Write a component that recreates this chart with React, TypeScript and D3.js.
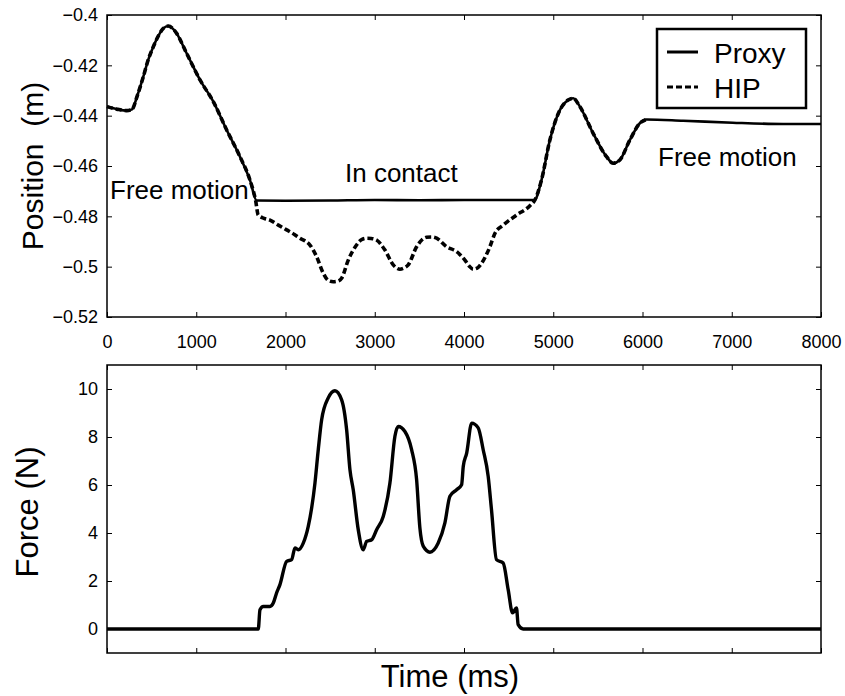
import { useEffect, useRef } from "react";
import * as d3 from "d3";

// ---------------- data ----------------
const proxyTime = [0, 120, 220, 280, 340, 407, 460, 519, 580, 631, 687, 740, 780, 892, 1042, 1191, 1341, 1490, 1602, 1677,
  2000, 2500, 3000, 3500, 4000, 4500, 4790, 4868, 4962, 5074, 5166, 5223, 5298, 5447, 5597, 5671, 5746, 5858, 5970, 6045,
  6455, 7011, 7575, 8000];
const proxyPos = [-0.4364, -0.4375, -0.438, -0.4375, -0.432, -0.4245, -0.418, -0.4126, -0.408, -0.4053, -0.4044, -0.4055,
  -0.4073, -0.4152, -0.4258, -0.4344, -0.4457, -0.4563, -0.4656, -0.4737, -0.4738, -0.4737, -0.4735, -0.4736, -0.4735,
  -0.4735, -0.4735, -0.4656, -0.4497, -0.4378, -0.4338, -0.4331, -0.4364, -0.447, -0.4563, -0.4589, -0.4576, -0.4497,
  -0.443, -0.4415, -0.442, -0.4428, -0.4433, -0.4433];

const hipTime = [0, 120, 220, 280, 340, 407, 460, 519, 580, 631, 687, 740, 780, 892, 1042, 1191, 1341, 1490, 1602, 1665,
  1695, 1760, 1826, 1920, 2013, 2100, 2162, 2230, 2274, 2348, 2423, 2480, 2535, 2580, 2629, 2703, 2796, 2850, 2908, 2960,
  3020, 3114, 3207, 3282, 3330, 3375, 3469, 3530, 3581, 3640, 3693, 3805, 3917, 4010, 4060, 4103, 4150, 4196, 4290, 4346,
  4439, 4588, 4738, 4794, 4868, 4962, 5074, 5166, 5223, 5298, 5447, 5597, 5671, 5746, 5858, 5970, 6045];
const hipPos = [-0.4364, -0.4375, -0.438, -0.4375, -0.432, -0.4245, -0.418, -0.4126, -0.408, -0.4053, -0.4044, -0.4055,
  -0.4073, -0.4152, -0.4258, -0.4344, -0.4457, -0.4563, -0.4656, -0.4737,
  -0.4795, -0.4808, -0.4815, -0.4835, -0.4854, -0.4872, -0.4887, -0.49, -0.4914, -0.496, -0.5026, -0.5055, -0.506, -0.5058,
  -0.5046, -0.4974, -0.4914, -0.4893, -0.4887, -0.4888, -0.4894, -0.4934, -0.4993, -0.501, -0.5005, -0.4993, -0.4921,
  -0.4893, -0.4883, -0.4882, -0.4887, -0.4921, -0.494, -0.4974, -0.4998, -0.501, -0.5005, -0.4987, -0.4921, -0.4868,
  -0.4835, -0.4795, -0.4758, -0.4735, -0.4656, -0.4497, -0.4378, -0.4338, -0.4331, -0.4364, -0.447, -0.4563, -0.4589,
  -0.4576, -0.4497, -0.443, -0.4415];

const forceTime = [0, 1695, 1714, 1751, 1826, 1863, 1900, 1938, 2013, 2069, 2106, 2143, 2199, 2255, 2293, 2330, 2367, 2405,
  2479, 2554, 2629, 2685, 2722, 2759, 2815, 2871, 2909, 2965, 3021, 3095, 3170, 3226, 3263, 3338, 3413, 3469, 3506, 3543,
  3618, 3711, 3786, 3842, 3917, 3973, 3992, 4030, 4086, 4159, 4215, 4271, 4308, 4364, 4439, 4495, 4544, 4588, 4607, 4663,
  8000];
const forceVal = [0, 0, 0.8, 0.94, 0.94, 1.08, 1.5, 1.85, 2.82, 2.89, 3.38, 3.3, 3.58, 4.28, 5.04, 6.08, 7.47, 8.72, 9.63,
  9.93, 9.55, 8.3, 6.64, 5.8, 4.14, 3.3, 3.65, 3.72, 4.14, 4.69, 6.08, 8.03, 8.44, 8.23, 7.47, 6.22, 4.2, 3.45, 3.2, 3.58,
  4.42, 5.53, 5.8, 6.01, 6.78, 7.33, 8.58, 8.38, 7.47, 6.36, 4.97, 2.89, 2.75, 1.64, 0.67, 0.88, 0.18, 0, 0];

const timeTicks = [0, 1000, 2000, 3000, 4000, 5000, 6000, 7000, 8000];
const posTicks = [-0.52, -0.5, -0.48, -0.46, -0.44, -0.42, -0.4];
const forceTicks = [0, 2, 4, 6, 8, 10];
const seriesNames = ["Proxy", "HIP"];

const FONT = "'Liberation Sans', Arial, Helvetica, sans-serif";

const App = () => {
  const svgRef = useRef(null);

  useEffect(() => {
    const W = 845, H = 696;
    const left = 107, right = 821;
    const top1 = 15, bot1 = 317;
    const top2 = 365, bot2 = 653;

    const svg = d3.select(svgRef.current).attr("width", W).attr("height", H);
    svg.selectAll("*").remove();
    svg.append("rect").attr("width", W).attr("height", H).attr("fill", "white");

    const x = d3.scaleLinear().domain([0, 8000]).range([left, right]);
    const y1 = d3.scaleLinear().domain([-0.52, -0.4]).range([bot1, top1]);
    const y2 = d3.scaleLinear().domain([-1, 11]).range([bot2, top2]);

    // ---------- axes helper ----------
    const styleAxis = (g, size) => {
      g.select(".domain").remove();
      g.selectAll("line").attr("stroke", "#000").attr("stroke-width", 1);
      g.selectAll("text").attr("font-family", FONT).attr("font-size", size).attr("fill", "#000");
    };

    const drawBox = (yScale, yTicks, top, bot, showX, yFmt) => {
      const g = svg.append("g");
      g.append("g").attr("transform", `translate(0,${bot})`)
        .call(d3.axisBottom(x).tickValues(timeTicks).tickSize(-5).tickPadding(18)
          .tickFormat(showX ? d3.format("d") : () => ""))
        .call(a => styleAxis(a, 18));
      g.append("g").attr("transform", `translate(0,${top})`)
        .call(d3.axisTop(x).tickValues(timeTicks).tickSize(-5).tickFormat(() => ""))
        .call(a => styleAxis(a, 18));
      g.append("g").attr("transform", `translate(${left},0)`)
        .call(d3.axisLeft(yScale).tickValues(yTicks).tickSize(-5).tickPadding(9).tickFormat(yFmt))
        .call(a => styleAxis(a, 18));
      g.append("g").attr("transform", `translate(${right},0)`)
        .call(d3.axisRight(yScale).tickValues(yTicks).tickSize(-5).tickFormat(() => ""))
        .call(a => styleAxis(a, 18));
      g.append("rect").attr("x", left).attr("y", top).attr("width", right - left).attr("height", bot - top)
        .attr("fill", "none").attr("stroke", "#000").attr("stroke-width", 1.5);
    };

    // ---------- top panel ----------
    drawBox(y1, posTicks, top1, bot1, true, d3.format("~g"));

    const line1 = d3.line().curve(d3.curveMonotoneX).x(d => x(d[0])).y(d => y1(d[1]));
    svg.append("path")
      .datum(proxyTime.map((t, i) => [t, proxyPos[i]]))
      .attr("d", line1).attr("fill", "none").attr("stroke", "#000").attr("stroke-width", 2.6);
    svg.append("path")
      .datum(hipTime.map((t, i) => [t, hipPos[i]]))
      .attr("d", line1).attr("fill", "none").attr("stroke", "#000").attr("stroke-width", 3.6)
      .attr("stroke-dasharray", "6,3");

    const txt = (s, xx, yy, size) =>
      svg.append("text").attr("x", xx).attr("y", yy).attr("font-family", FONT).attr("font-size", size)
        .attr("fill", "#000").style("white-space", "pre").text(s);

    txt("Free motion", 110, 199, 26);
    txt("In contact", 345, 182, 26);
    txt("Free motion", 658, 166, 26);

    // legend
    svg.append("rect").attr("x", 657).attr("y", 29).attr("width", 149).attr("height", 79)
      .attr("fill", "white").attr("stroke", "#000").attr("stroke-width", 2.5);
    seriesNames.forEach((name, i) => {
      const ly = 52 + i * 35;
      svg.append("line").attr("x1", 667).attr("x2", 698).attr("y1", ly).attr("y2", ly)
        .attr("stroke", "#000").attr("stroke-width", 3)
        .attr("stroke-dasharray", i === 0 ? null : "6,3");
      txt(name, 714, ly + 11, 28);
    });

    svg.append("text")
      .attr("transform", `translate(43,${(top1 + bot1) / 2}) rotate(-90)`)
      .attr("text-anchor", "middle").attr("font-family", FONT).attr("font-size", 30)
      .style("white-space", "pre").text("Position  (m)");

    // ---------- bottom panel ----------
    drawBox(y2, forceTicks, top2, bot2, false, d3.format("d"));

    const line2 = d3.line().curve(d3.curveMonotoneX).x(d => x(d[0])).y(d => y2(d[1]));
    svg.append("path")
      .datum(forceTime.map((t, i) => [t, forceVal[i]]))
      .attr("d", line2).attr("fill", "none").attr("stroke", "#000").attr("stroke-width", 3.4);

    svg.append("text")
      .attr("transform", `translate(38,${(top2 + bot2) / 2 + 3}) rotate(-90)`)
      .attr("text-anchor", "middle").attr("font-family", FONT).attr("font-size", 31)
      .text("Force (N)");

    svg.append("text").attr("x", 450).attr("y", 687).attr("text-anchor", "middle")
      .attr("font-family", FONT).attr("font-size", 31).text("Time (ms)");
  }, []);

  return (
    <svg ref={svgRef} style={{ position: "absolute", left: 0, top: 0, display: "block" }}></svg>
  );
};

export default App;
